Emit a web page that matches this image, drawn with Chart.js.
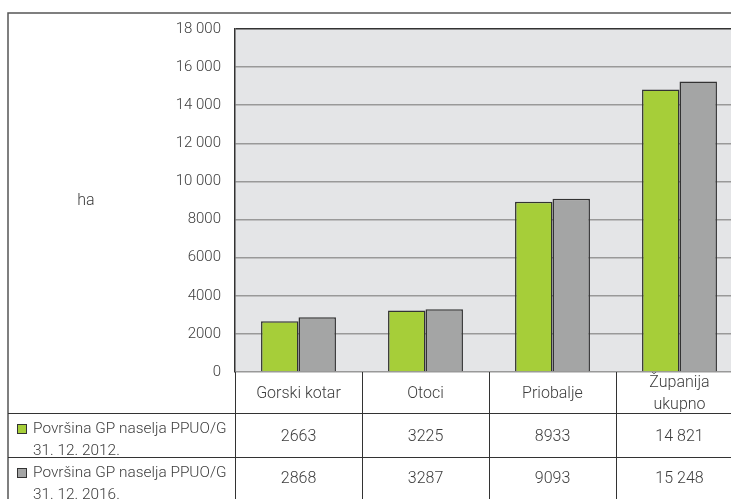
<!DOCTYPE html>
<html>
<head>
<meta charset="utf-8">
<script src="https://cdn.jsdelivr.net/npm/chart.js@4"></script>
<style>
  html, body { margin: 0; padding: 0; background: #fff; overflow: hidden; }
  #wrap { position: absolute; left: 0; top: 0; width: 760px; height: 499px; }
</style>
</head>
<body>
<div id="wrap"><canvas id="myChart" width="760" height="499"></canvas></div>
<script>
// podaci
const categories = ["Gorski kotar", "Otoci", "Priobalje", "Županija ukupno"];
const seriesNames = ["Površina GP naselja PPUO/G 31. 12. 2012.", "Površina GP naselja PPUO/G 31. 12. 2016."];
const values2012 = [2663, 3225, 8933, 14821];
const values2016 = [2868, 3287, 9093, 15248];
const yTicks = [0, 2000, 4000, 6000, 8000, 10000, 12000, 14000, 16000, 18000];

const FONT = "Roboto, 'Noto Sans', sans-serif";
const TXT = "#3c3c3c";

function fmt(v) {
  // tisuće s razmakom samo iznad 9999
  if (v >= 10000) return String(v).replace(/\B(?=(\d{3})+(?!\d))/g, " ");
  return String(v);
}

const tablePlugin = {
  id: "tablePlugin",
  beforeDraw(chart) {
    const a = chart.chartArea, c = chart.ctx;
    c.save();
    c.fillStyle = "#e4e5e7";
    c.fillRect(a.left, a.top, a.right - a.left, a.bottom - a.top);
    c.restore();
  },
  afterDraw(chart) {
    const a = chart.chartArea, c = chart.ctx;
    const xs = chart.scales.x;
    const step = (a.right - a.left) / categories.length;
    const row1 = a.bottom + 41, row2 = row1 + 44;
    c.save();
    // vanjski okvir
    c.strokeStyle = "#555";
    c.lineWidth = 1.5;
    c.beginPath();
    c.moveTo(8, 499); c.lineTo(8, 13); c.lineTo(760, 13);
    c.stroke();
    // linije tablice
    c.strokeStyle = "#333";
    c.lineWidth = 1;
    c.beginPath();
    c.moveTo(8, row1 + 0.5); c.lineTo(760, row1 + 0.5);
    c.moveTo(8, row2 + 0.5); c.lineTo(760, row2 + 0.5);
    for (let i = 0; i <= categories.length; i++) {
      const x = Math.round(a.left + i * step) + 0.5;
      c.moveTo(x, a.bottom); c.lineTo(x, 499);
    }
    c.stroke();
    // kategorije
    c.fillStyle = TXT;
    c.font = "300 16px " + FONT;
    c.textAlign = "center";
    c.textBaseline = "middle";
    categories.forEach((cat, i) => {
      const cx = xs.getPixelForValue(i);
      const cy = (a.bottom + row1) / 2;
      if (cat === "Županija ukupno") {
        c.fillText("Županija", cx, cy - 10);
        c.fillText("ukupno", cx, cy + 12);
      } else {
        c.fillText(cat, cx, cy + 1);
      }
      c.fillText(fmt(values2012[i]), cx, row1 + 24);
      c.fillText(fmt(values2016[i]), cx, row2 + 22);
    });
    // legenda u tablici
    const colors = ["#a6ce39", "#a4a5a5"];
    const tops = [row1, row2];
    c.textAlign = "left";
    c.font = "300 15.4px " + FONT;
    seriesNames.forEach((name, i) => {
      const t = tops[i];
      c.fillStyle = colors[i];
      c.fillRect(17, t + 11, 10, 10);
      c.strokeStyle = "#333";
      c.lineWidth = 1;
      c.strokeRect(17.5, t + 11.5, 9, 9);
      c.fillStyle = TXT;
      const parts = name.split(" 31.");
      c.fillText(parts[0], 33, t + 16);
      c.fillText("31." + parts[1], 33, t + 38);
    });
    // naslov osi
    c.font = "300 16px " + FONT;
    c.textAlign = "center";
    c.fillText("ha", 86, 201);
    c.restore();
  }
};

const ctx = document.getElementById("myChart").getContext("2d");
const myChart = new Chart(ctx, {
  type: "bar",
  data: {
    labels: categories,
    datasets: [
      {
        label: seriesNames[0],
        data: values2012,
        backgroundColor: "#a6ce39",
        borderColor: "#333",
        borderWidth: 1.5,
        borderSkipped: "bottom",
      },
      {
        label: seriesNames[1],
        data: values2016,
        backgroundColor: "#a4a5a5",
        borderColor: "#333",
        borderWidth: 1.5,
        borderSkipped: "bottom",
      },
    ],
  },
  options: {
    responsive: false,
    animation: false,
    layout: { padding: { left: 0, right: 17, top: 29, bottom: 119 } },
    plugins: { legend: { display: false }, tooltip: { enabled: false } },
    datasets: { bar: { categoryPercentage: 0.59, barPercentage: 1 } },
    scales: {
      x: {
        ticks: { display: false },
        grid: { display: false },
        border: { display: false },
      },
      y: {
        min: 0,
        max: 18000,
        afterBuildTicks: (scale) => { scale.ticks = yTicks.map((v) => ({ value: v })); },
        afterFit: (scale) => { scale.width = 235; },
        ticks: {
          padding: 14,
          color: TXT,
          font: { family: FONT, size: 15, weight: 300 },
          callback: (v) => fmt(v),
        },
        grid: {
          drawTicks: false,
          color: (c) => (c.tick && c.tick.value === 18000 ? "#333" : "#999"),
          lineWidth: 1.5,
        },
        border: { color: "#333", width: 1.5 },
      },
    },
  },
  plugins: [tablePlugin],
});
</script>
</body>
</html>
